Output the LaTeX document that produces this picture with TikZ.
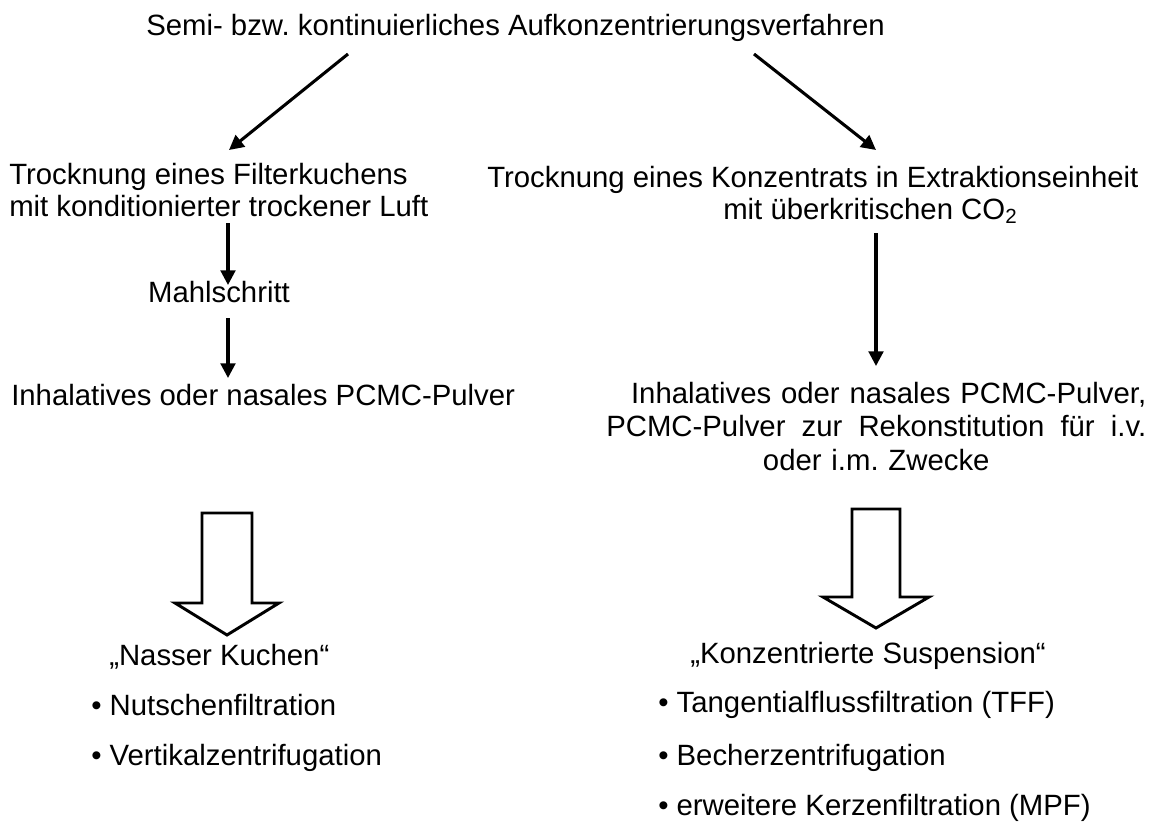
\documentclass[tikz,border=0pt]{standalone}
\usepackage{fontspec}
\setmainfont{Liberation Sans}
\usetikzlibrary{arrows.meta}
\frenchspacing

\tikzset{
  txt/.style={inner sep=0pt, font=\fontsize{22pt}{24pt}\selectfont},
  thinarrow/.style={line width=2.3pt, -{Triangle[length=11pt,width=11pt]}},
  fatarrow/.style={line width=2.2pt, line join=miter, fill=white},
}

\begin{document}
\begin{tikzpicture}[x=0.75pt,y=-0.75pt]
\useasboundingbox (0,0) rectangle (1149,821);

\node [txt,anchor=base west] (title) at (146,35) {Semi- bzw. kontinuierliches Aufkonzentrierungsverfahren};

% left branch
\node [txt,anchor=north west,align=left] (ldry) at (9,163) {Trocknung eines Filterkuchens\\mit konditionierter trockener Luft};
\node [txt,anchor=base] (mill) at (219,302) {Mahlschritt};
\node [txt,anchor=base west] (lpowder) at (11,405) {Inhalatives oder nasales PCMC-Pulver};
\node [txt,anchor=base west] (lcake) at (109,665) {„Nasser Kuchen“};
\node [txt,anchor=base west] (lb1) at (91,715) {• Nutschenfiltration};
\node [txt,anchor=base west] (lb2) at (91,765) {• Vertikalzentrifugation};

% right branch
\node [txt,anchor=base west] (rdry) at (487,187) {Trocknung eines Konzentrats in Extraktionseinheit};
\node [txt,anchor=base west] (rco) at (723,219) {mit überkritischen CO\textsubscript{2}};
\node [txt,anchor=north west,text width=405pt,align=center,
       font=\fontsize{22pt}{25pt}\selectfont] (rpowder) at (606,382)
  {\makebox[405pt][r]{Inhalatives oder nasales PCMC-Pulver,}\\
   \makebox[405pt][s]{PCMC-Pulver\hfill zur\hfill Rekonstitution\hfill für\hfill i.v.}\\
   oder i.m. Zwecke};
\node [txt,anchor=base west] (rsusp) at (690,663) {„Konzentrierte Suspension“};
\node [txt,anchor=base west] (rb1) at (658,712) {• Tangentialflussfiltration (TFF)};
\node [txt,anchor=base west] (rb2) at (658,765) {• Becherzentrifugation};
\node [txt,anchor=base west] (rb3) at (658,815) {• erweitere Kerzenfiltration (MPF)};

% arrow ends
\coordinate (tl) at (348,54);
\coordinate (tr) at (754,54);
\coordinate (ld) at (229,150);
\coordinate (rd) at (876,150);
\coordinate (l1a) at (228,223);
\coordinate (l1b) at (228,285);
\coordinate (l2a) at (228,318);
\coordinate (l2b) at (228,378);
\coordinate (r1a) at (876,233);
\coordinate (r1b) at (876,366);
\coordinate (lfat) at (227,513);
\coordinate (rfat) at (876,509);

\draw [thinarrow] (tl)--(ld);
\draw [thinarrow] (tr)--(rd);
\draw [thinarrow] (l1a)--(l1b);
\draw [thinarrow] (l2a)--(l2b);
\draw [thinarrow] (r1a)--(r1b);

% the hollow arrows
\draw [fatarrow] (lfat) ++(-25,0) -- ++(50,0) -- ++(0,90) -- ++(27,0) -- ++(-52,32) -- ++(-52,-32) -- ++(27,0) -- cycle;
\draw [fatarrow] (rfat) ++(-24,0) -- ++(48,0) -- ++(0,88) -- ++(29,0) -- ++(-53,31) -- ++(-53,-31) -- ++(29,0) -- cycle;

\end{tikzpicture}
\end{document}
